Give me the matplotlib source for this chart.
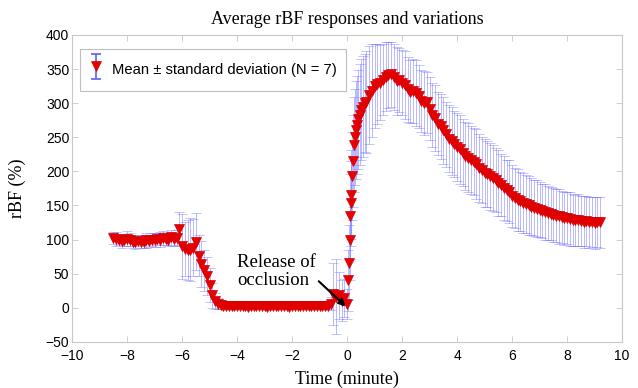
import matplotlib.pyplot as plt
import matplotlib as mpl
from matplotlib.collections import LineCollection
from matplotlib.container import ErrorbarContainer
from matplotlib.legend_handler import HandlerErrorbar
from matplotlib.lines import Line2D

mpl.rcParams['font.family'] = 'Liberation Sans'

# time (minute) relative to release of occlusion
time_baseline = [-8.5, -8.4, -8.3, -8.2, -8.1, -8.0, -7.9, -7.8, -7.7, -7.6, -7.5, -7.4,
                 -7.3, -7.2, -7.1, -7.0, -6.9, -6.8, -6.7, -6.6, -6.5, -6.4, -6.3, -6.2]
mean_baseline = [102, 101, 100, 98, 99, 101, 100, 97, 96, 98, 96, 97,
                 99, 98, 100, 99, 101, 100, 102, 101, 100, 103, 101, 102]
sd_baseline = [9, 10, 8, 10, 9, 11, 10, 9, 10, 8, 9, 10,
               11, 9, 10, 10, 9, 11, 10, 9, 10, 11, 10, 12]

time_occl = [-6.1, -6.0, -5.9, -5.8, -5.7, -5.6, -5.5, -5.4, -5.3, -5.2, -5.1, -5.0,
             -4.9, -4.8, -4.7, -4.6, -4.5]
mean_occl = [116, 90, 86, 84, 85, 88, 97, 76, 64, 55, 47, 33, 18, 10, 6, 4, 3]
sd_occl = [24, 48, 40, 44, 46, 42, 42, 30, 34, 30, 28, 25, 18, 12, 8, 6, 5]

time_flat = [-4.4, -4.3, -4.2, -4.1, -4.0, -3.9, -3.8, -3.7, -3.6, -3.5, -3.4, -3.3, -3.2,
             -3.1, -3.0, -2.9, -2.8, -2.7, -2.6, -2.5, -2.4, -2.3, -2.2, -2.1, -2.0, -1.9,
             -1.8, -1.7, -1.6, -1.5, -1.4, -1.3, -1.2, -1.1, -1.0, -0.9, -0.8, -0.7]
mean_flat = [2, 3, 2, 3, 2, 2, 3, 2, 1, 2, 2, 3, 2, 2, 2, 1, 2, 2, 3, 2, 2, 2, 2, 1, 2, 2,
             3, 2, 2, 2, 2, 3, 2, 3, 2, 3, 2, 3]
sd_flat = [4, 3, 4, 3, 3, 4, 3, 3, 4, 3, 3, 4, 3, 3, 3, 4, 3, 3, 4, 3, 3, 3, 4, 3, 3, 3,
           4, 3, 3, 4, 3, 3, 4, 3, 4, 3, 4, 5]

time_release = [-0.6, -0.5, -0.4, -0.3, -0.2, -0.1, 0.0]
mean_release = [6, 20, 16, 18, 10, 14, 6]
sd_release = [10, 45, 55, 35, 30, 28, 22]

time_rise = [0.03, 0.06, 0.09, 0.11, 0.13, 0.16, 0.19, 0.22, 0.25, 0.28, 0.32, 0.36,
             0.41, 0.46, 0.52, 0.58, 0.64]
mean_rise = [40, 66, 100, 134, 153, 166, 193, 215, 239, 250, 261, 268, 276, 283, 290, 295, 300]
sd_rise = [45, 55, 60, 62, 62, 65, 65, 68, 70, 70, 72, 72, 72, 74, 74, 74, 72]

time_recovery = [0.7, 0.8, 0.9, 1.0, 1.1, 1.2, 1.3, 1.4, 1.5, 1.6, 1.7, 1.8, 1.9, 2.0,
                 2.1, 2.2, 2.3, 2.4, 2.5, 2.6, 2.7, 2.8, 2.9, 3.0, 3.1, 3.2, 3.3, 3.4,
                 3.5, 3.6, 3.7, 3.8, 3.9, 4.0, 4.1, 4.2, 4.3, 4.4, 4.5, 4.6, 4.7, 4.8,
                 4.9, 5.0, 5.1, 5.2, 5.3, 5.4, 5.5, 5.6, 5.7, 5.8, 5.9, 6.0, 6.1, 6.2,
                 6.3, 6.4, 6.5, 6.6, 6.7, 6.8, 6.9, 7.0, 7.1, 7.2, 7.3, 7.4, 7.5, 7.6,
                 7.7, 7.8, 7.9, 8.0, 8.1, 8.2, 8.3, 8.4, 8.5, 8.6, 8.7, 8.8, 8.9, 9.0,
                 9.1, 9.2]
mean_recovery = [302, 312, 318, 325, 328, 330, 334, 339, 341, 342, 338, 333, 334, 330,
                 326, 320, 317, 318, 315, 310, 303, 300, 301, 292, 282, 278, 270, 266,
                 260, 254, 248, 244, 240, 236, 232, 227, 223, 220, 217, 214, 211, 205,
                 202, 198, 196, 193, 190, 187, 183, 180, 176, 172, 170, 164, 161, 158,
                 156, 153, 152, 150, 148, 146, 145, 144, 142, 140, 139, 138, 136, 135,
                 134, 133, 131, 132, 130, 129, 128, 129, 127, 126, 127, 125, 126, 124,
                 126, 125]
sd_recovery = [75, 72, 68, 62, 58, 55, 52, 50, 48, 47, 48, 50, 47, 48,
               50, 48, 46, 47, 48, 46, 45, 47, 45, 46, 47, 48, 46, 48,
               49, 47, 49, 50, 48, 50, 51, 49, 50, 51, 50, 49, 51, 50,
               49, 50, 48, 49, 48, 47, 48, 46, 47, 45, 46, 45, 44, 45,
               43, 44, 42, 43, 42, 41, 42, 41, 40, 41, 40, 39, 40, 39,
               40, 38, 39, 38, 39, 38, 37, 38, 37, 38, 37, 38, 37, 38,
               37, 38]

time_min = time_baseline + time_occl + time_flat + time_release + time_rise + time_recovery
mean_rbf = mean_baseline + mean_occl + mean_flat + mean_release + mean_rise + mean_recovery
sd_rbf = sd_baseline + sd_occl + sd_flat + sd_release + sd_rise + sd_recovery

fig = plt.figure(figsize=(6.38, 3.88), dpi=100)
ax = fig.add_axes([0.113, 0.119, 0.862, 0.791])

eb = ax.errorbar(time_min, mean_rbf, yerr=sd_rbf, fmt='v', color='#e60000', markersize=6.5,
                 markeredgecolor='#d40000', markeredgewidth=0.5, ecolor='#6a6aff',
                 elinewidth=0.6, capsize=3.8, capthick=0.6,
                 label='Mean \u00b1 standard deviation (N = 7)')
# lighten only the bars and caps, keep the markers solid
line, caps, barcols = eb.lines
for cap in caps:
    cap.set_alpha(0.55)
for bc in barcols:
    bc.set_alpha(0.55)

ax.set_xlim(-10, 10)
ax.set_ylim(-50, 400)
ax.set_xticks(range(-10, 11, 2))
ax.set_yticks(range(-50, 401, 50))

for side in ['top', 'bottom', 'left', 'right']:
    ax.spines[side].set_color('#c8c8c8')
    ax.spines[side].set_linewidth(0.8)
ax.tick_params(direction='in', top=True, right=True, length=4, width=0.6,
               color='#c8c8c8', labelsize=10, labelcolor='black')
ax.tick_params(axis='x', pad=5)
ax.tick_params(axis='y', pad=2)

serif = 'Liberation Serif'
ax.set_title('Average rBF responses and variations', family=serif, fontsize=13, pad=8)
ax.set_xlabel('Time (minute)', family=serif, fontsize=13, labelpad=6)
ax.set_ylabel('rBF (%)', family=serif, fontsize=13, labelpad=14)

ax.annotate('Release of\nocclusion', xy=(-0.05, 2), xytext=(-4.0, 53),
            family=serif, fontsize=13.5, ha='left', va='center', linespacing=1.1,
            arrowprops=dict(arrowstyle='-|>', color='black', lw=1.5,
                            shrinkA=0, shrinkB=0, mutation_scale=10,
                            relpos=(1.0, 0.3)))

leg = ax.legend(loc='upper left', bbox_to_anchor=(0.014, 0.955), borderaxespad=0,
                fancybox=False, fontsize=10.6, handlelength=1.0, handleheight=2.2,
                handletextpad=0.6, borderpad=0.6,
                handler_map={ErrorbarContainer: HandlerErrorbar(yerr_size=0.85)})
leg.get_frame().set_edgecolor('#b0b0b0')
leg.get_frame().set_linewidth(0.8)
# make the legend's error bar clearly visible
for lc in leg.findobj(LineCollection):
    lc.set_alpha(1.0)
    lc.set_color('#5050ff')
    lc.set_linewidth(1.1)
for ln in leg.findobj(Line2D):
    if ln.get_marker() in ('_', 0, 1, 2, 3):
        ln.set_alpha(1.0)
        ln.set_color('#5050ff')
        ln.set_markeredgecolor('#5050ff')
        ln.set_markeredgewidth(1.1)

plt.savefig('out.png', dpi=100)
